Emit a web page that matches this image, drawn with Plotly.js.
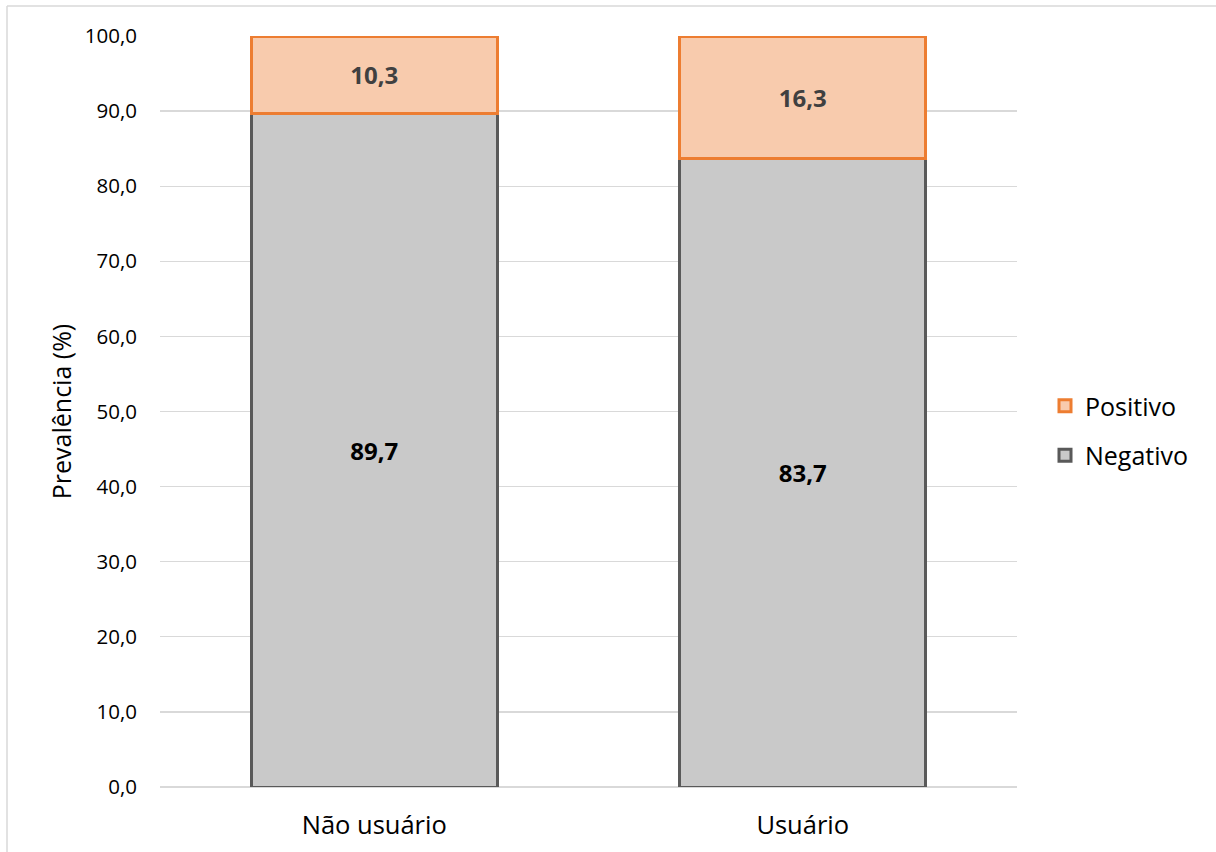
<!DOCTYPE html>
<html>
<head>
<meta charset="utf-8">
<script src="https://cdn.plot.ly/plotly-3.0.1.min.js"></script>
<style>html,body{margin:0;padding:0;background:#fff;}#chart{width:1216px;height:852px;}</style>
</head>
<body>
<div id="chart"></div>
<script>
const categories = ["Não usuário", "Usuário"];
const negativo = [89.7, 83.7];
const positivo = [10.3, 16.3];
const yTicks = [0, 10, 20, 30, 40, 50, 60, 70, 80, 90, 100];

const FONT = "Open Sans, Noto Sans, sans-serif";

const traces = [
  {
    type: "bar", name: "Negativo", x: categories, y: negativo,
    legendgroup: "neg", legendrank: 2,
    marker: {color: "#C9C9C9", line: {color: "#595959", width: 3}},
    texttemplate: "<b>%{y:.1f}</b>", textposition: "inside", insidetextanchor: "middle",
    constraintext: "none",
    textfont: {family: FONT, size: 24, color: "#000000"},
    hoverinfo: "none"
  },
  {
    type: "bar", name: "Positivo", x: categories, y: positivo,
    legendgroup: "pos", legendrank: 1,
    marker: {color: "#F8CBAD", line: {color: "#ED7D31", width: 3}},
    texttemplate: "<b>%{y:.1f}</b>", textposition: "inside", insidetextanchor: "middle",
    constraintext: "none",
    textfont: {family: FONT, size: 24, color: "#404040"},
    hoverinfo: "none"
  }
];

const L = 160, R = 199, T = 36, B = 65;
const W = 1216 - L - R, H = 852 - T - B;
const px = v => (v - L) / W;
const py = v => 1 - (v - T) / H;

const layout = {
  width: 1216, height: 852,
  margin: {l: L, r: R, t: T, b: B, pad: 0},
  paper_bgcolor: "#ffffff", plot_bgcolor: "#ffffff",
  barmode: "stack", bargap: 0.426,
  separators: ",.",
  font: {family: FONT, size: 20, color: "#000000"},
  showlegend: true,
  legend: {
    x: px(1045), y: py(383), xanchor: "left", yanchor: "top",
    traceorder: "grouped", tracegroupgap: 14,
    font: {family: FONT, size: 25, color: "#000000"},
    itemwidth: 30, bgcolor: "rgba(0,0,0,0)"
  },
  xaxis: {
    type: "category", showgrid: false, zeroline: false,
    showline: false, ticks: "", ticklen: 0, ticklabelstandoff: 20,
    tickfont: {family: FONT, size: 25.5, color: "#000000"}
  },
  yaxis: {
    range: [0, 100], tickvals: yTicks, tickformat: ".1f",
    showgrid: true, gridcolor: "#D9D9D9", gridwidth: 1.3,
    zeroline: true, zerolinecolor: "#D9D9D9", zerolinewidth: 1.3,
    showline: false, ticks: "", ticklabelstandoff: 22,
    tickfont: {family: FONT, size: 20.5, color: "#000000"},
    title: {text: "Prevalência (%)", font: {family: FONT, size: 25, color: "#000000"}, standoff: 6}
  },
  shapes: [
    {type: "line", xref: "paper", yref: "paper", x0: px(7), x1: px(1230), y0: py(6), y1: py(6), line: {color: "#D9D9D9", width: 1.5}},
    {type: "line", xref: "paper", yref: "paper", x0: px(7), x1: px(7), y0: py(6), y1: py(870), line: {color: "#D9D9D9", width: 1.5}}
  ]
};

Plotly.newPlot("chart", traces, layout, {displayModeBar: false, staticPlot: true});
</script>
</body>
</html>
